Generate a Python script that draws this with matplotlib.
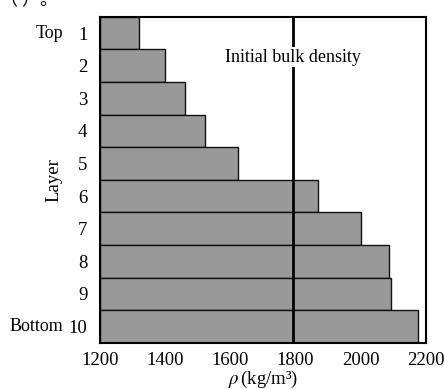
import matplotlib
matplotlib.use('Agg')
import matplotlib.pyplot as plt
import matplotlib.transforms as mtransforms

plt.rcParams['font.family'] = ['Liberation Serif', 'Noto Sans CJK SC']
plt.rcParams['mathtext.fontset'] = 'stix'

# layer densities (layer 1 = top)
layers = ['1', '2', '3', '4', '5', '6', '7', '8', '9', '10']
density = [1320, 1400, 1460, 1522, 1622, 1868, 2000, 2086, 2092, 2175]
initial_density = 1792
x_ticks = [1200, 1400, 1600, 1800, 2000, 2200]

fig = plt.figure(figsize=(4.44, 3.89), dpi=100)
ax = fig.add_axes([0.2252, 0.119, 0.7343, 0.838])

pos = list(range(len(layers)))
ax.barh(pos, [d - x_ticks[0] for d in density], left=x_ticks[0], height=1.0,
        color='#999999', edgecolor='#111111', linewidth=1.0, zorder=2)

ax.axvline(initial_density, color='black', linewidth=2.0, zorder=3)
ax.text(initial_density, 0.74, 'Initial bulk density', ha='center', va='center',
        fontsize=13, zorder=4,
        bbox=dict(facecolor='white', edgecolor='none', pad=1.0))

ax.set_xlim(x_ticks[0], x_ticks[-1])
ax.set_ylim(len(layers) - 0.5, -0.5)
ax.set_xticks(x_ticks)
ax.set_xticklabels([str(t) for t in x_ticks], fontsize=13.5)
ax.set_yticks(pos)
ax.set_yticklabels(layers, fontsize=13.5)
ax.tick_params(axis='x', direction='in', length=4, width=0.8, pad=7)
ax.tick_params(axis='y', length=0, pad=9)

for s in ax.spines.values():
    s.set_linewidth(1.5)

trans = mtransforms.blended_transform_factory(ax.transAxes, ax.transData)
ax.text(-0.113, 0, 'Top', ha='right', va='center', fontsize=13, transform=trans)
ax.text(-0.113, 9, 'Bottom', ha='right', va='center', fontsize=13, transform=trans)

ax.set_ylabel('Layer', fontsize=13.5)
ax.yaxis.set_label_coords(-0.116, 0.5)
ax.set_xlabel(r'$\rho\,$(kg/m³)', fontsize=13.5, labelpad=-0.5)

# cut-off caption fragment at the top edge
fig.text(0.0, 1.0, '（ ）。', ha='left', va='center', fontsize=13,
         family=['Noto Sans CJK SC'])

fig.savefig('out.png', dpi=100)
